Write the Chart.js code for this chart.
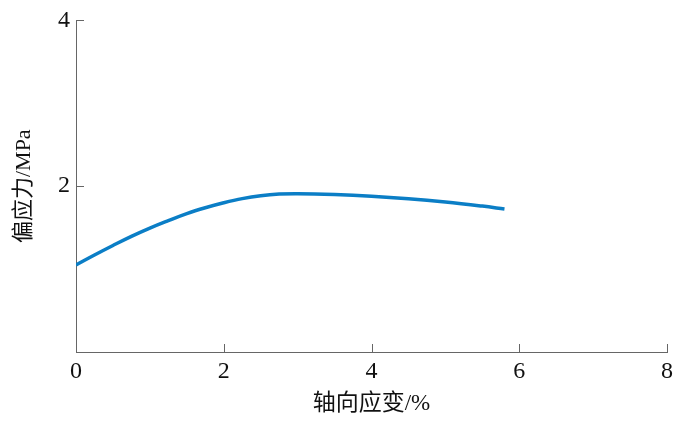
<!DOCTYPE html>
<html>
<head>
<meta charset="utf-8">
<script src="https://cdn.jsdelivr.net/npm/chart.js@4/dist/chart.umd.min.js"></script>
<style>
html,body{margin:0;padding:0;background:#fff;}
#wrap{width:700px;height:431px;}
</style>
</head>
<body>
<div id="wrap"><canvas id="c" width="700" height="431"></canvas></div>
<script>
const strainPct = [0, 0.25, 0.5, 0.75, 1, 1.25, 1.5, 1.75, 2, 2.25, 2.5, 2.75, 3, 3.5, 4, 4.5, 5, 5.5, 5.8];
const deviatorStress = [1.05, 1.17, 1.285, 1.395, 1.495, 1.585, 1.67, 1.74, 1.80, 1.85, 1.885, 1.905, 1.91, 1.90, 1.88, 1.85, 1.81, 1.76, 1.725];
const xTicks = [0, 2, 4, 6, 8];
const yTicks = [2, 4];
const xTitle = '轴向应变/%';
const yTitle = '偏应力/MPa';

const fontFam = "'Liberation Serif', 'Noto Sans CJK SC', serif";
const axisColor = '#666';

const innerTicks = {
  id: 'innerTicks',
  afterDatasetsDraw(chart) {
    const ctx = chart.ctx;
    const xs = chart.scales.x, ys = chart.scales.y;
    const a = chart.chartArea;
    ctx.save();
    ctx.strokeStyle = axisColor;
    ctx.lineWidth = 1;
    ctx.beginPath();
    xTicks.forEach(v => {
      if (v === 0) return;
      const px = Math.round(xs.getPixelForValue(v)) + 0.5;
      ctx.moveTo(px, a.bottom);
      ctx.lineTo(px, a.bottom - 8);
    });
    yTicks.forEach(v => {
      const py = Math.round(ys.getPixelForValue(v)) + 0.5;
      ctx.moveTo(a.left, py);
      ctx.lineTo(a.left + 8, py);
    });
    ctx.stroke();
    ctx.restore();
  }
};

new Chart(document.getElementById('c'), {
  type: 'line',
  data: {
    datasets: [{
      data: strainPct.map((x, i) => ({x: x, y: deviatorStress[i]})),
      borderColor: '#0b7ec6',
      borderWidth: 3.5,
      pointRadius: 0,
      fill: false,
      tension: 0.4
    }]
  },
  options: {
    responsive: false,
    animation: false,
    events: [],
    layout: { padding: { left: 0, top: 20, right: 33, bottom: 0 } },
    plugins: { legend: { display: false }, tooltip: { enabled: false } },
    scales: {
      x: {
        type: 'linear', min: 0, max: 8,
        afterBuildTicks: s => { s.ticks = xTicks.map(v => ({value: v})); },
        afterFit: s => { s.height = 79; },
        grid: { display: false, drawTicks: false },
        border: { display: true, color: axisColor, width: 1 },
        ticks: { color: '#111', font: { family: fontFam, size: 24 }, padding: 5, maxRotation: 0 },
        title: { display: true, text: xTitle, color: '#111', font: { family: fontFam, size: 23 }, padding: { top: 0, bottom: 13 } }
      },
      y: {
        type: 'linear', min: 0, max: 4,
        afterBuildTicks: s => { s.ticks = yTicks.map(v => ({value: v})); },
        afterFit: s => { s.width = 76; },
        grid: { display: false, drawTicks: false },
        border: { display: true, color: axisColor, width: 1 },
        ticks: { color: '#111', font: { family: fontFam, size: 24 }, padding: 6 },
        title: { display: true, text: yTitle, color: '#111', font: { family: fontFam, size: 22 }, padding: { top: 11, bottom: 0 } }
      }
    }
  },
  plugins: [innerTicks]
});
</script>
</body>
</html>
